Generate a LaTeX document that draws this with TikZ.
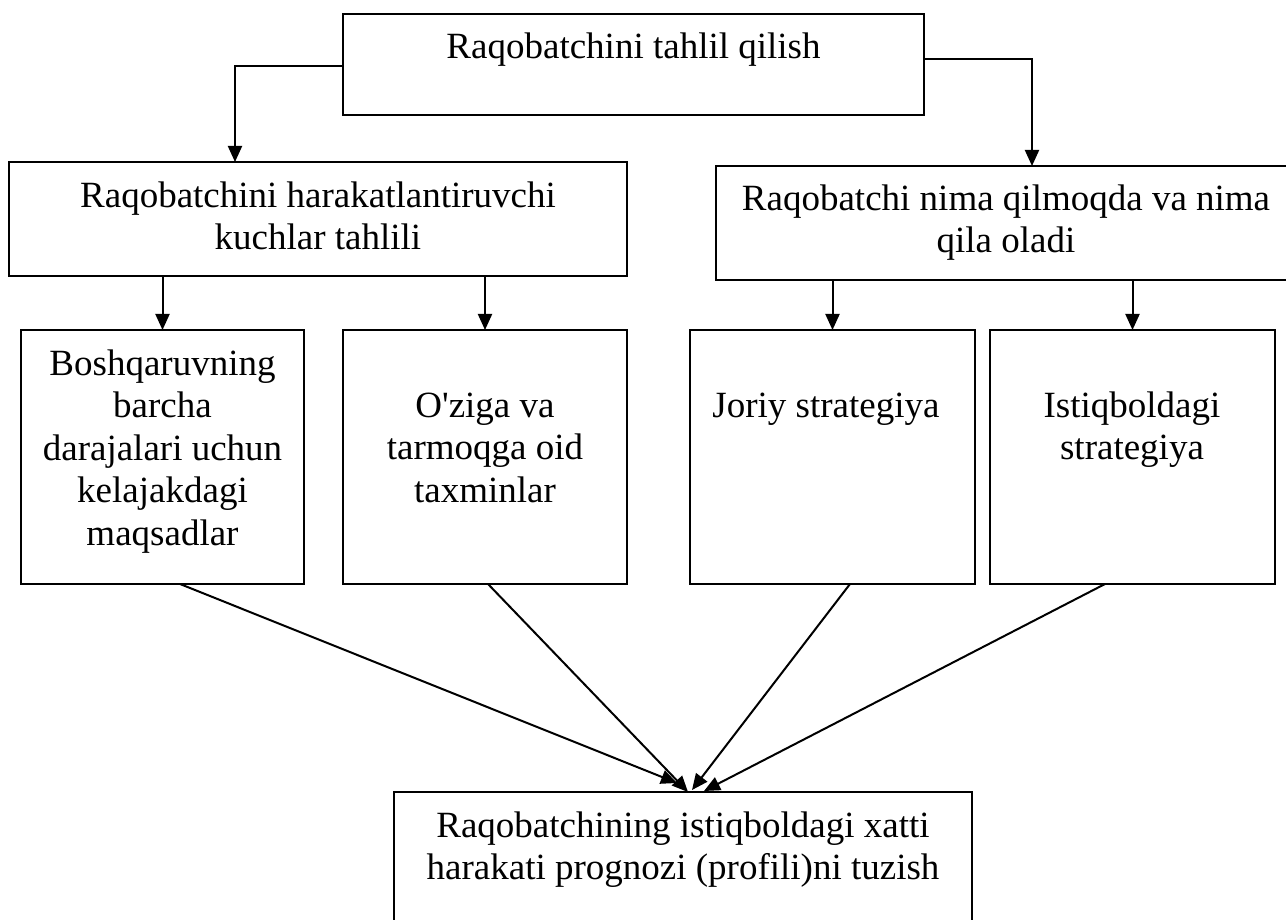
\documentclass[tikz,border=0pt]{standalone}
\usepackage{fontspec}
\setmainfont{Liberation Serif}[Ligatures=TeXOff]
\usetikzlibrary{arrows.meta,calc}
\begin{document}
\begin{tikzpicture}[x=1pt,y=-1pt,
  box/.style={draw, line width=2pt, inner sep=0pt, outer sep=0pt},
  txt/.style={font=\fontsize{37}{42.5}\selectfont, align=center, inner sep=0pt, anchor=north},
  arr/.style={line width=2pt, -{Triangle[length=16pt,width=14pt]}}]
\useasboundingbox (0,0) rectangle (1286,920);
% boxes
\node[box, minimum width=581pt, minimum height=101pt] (top) at (633.5,64.5) {};
\node[box, minimum width=618pt, minimum height=114pt] (left2) at (318,219) {};
\node[box, minimum width=584pt, minimum height=114pt] (right2) at (1008,223) {};
\node[box, minimum width=283pt, minimum height=254pt] (A) at (162.5,457) {};
\node[box, minimum width=284pt, minimum height=254pt] (B) at (485,457) {};
\node[box, minimum width=285pt, minimum height=254pt] (C) at (832.5,457) {};
\node[box, minimum width=285pt, minimum height=254pt] (D) at (1132.5,457) {};
\node[box, minimum width=578pt, minimum height=158pt] (bot) at (683,871) {};
% texts
\node[txt] (ttop) at (633.5,28.25) {\strut Raqobatchini tahlil qilish};
\node[txt] (tleft2) at (318,177.25) {\strut Raqobatchini harakatlantiruvchi\\kuchlar tahlili};
\node[txt] (tright2) at (1006,180.25) {\strut Raqobatchi nima qilmoqda va nima\\qila oladi};
\node[txt] (tA) at (162.5,345.25) {\strut Boshqaruvning\\barcha\\darajalari uchun\\kelajakdagi\\maqsadlar};
\node[txt] (tB) at (485,387.25) {\strut O'ziga va\\tarmoqga oid\\taxminlar};
\node[txt] (tC) at (826,387.25) {\strut Joriy strategiya};
\node[txt] (tD) at (1132,387.25) {\strut Istiqboldagi\\strategiya};
\node[txt] (tbot) at (683,807.25) {\strut Raqobatchining istiqboldagi xatti\\harakati prognozi (profili)ni tuzish};
% connectors
\draw[arr] ($(top.west)+(0,1.5)$) -| ($(left2.north)+(-83,0)$);
\draw[arr] ($(top.east)+(0,-5.5)$) -| ($(right2.north)+(24,0)$);
\draw[arr] (A.north |- left2.south) -- (A.north);
\draw[arr] (B.north |- left2.south) -- (B.north);
\draw[arr] (C.north |- right2.south) -- (C.north);
\draw[arr] (D.north |- right2.south) -- (D.north);
\draw[arr] ($(A.south)+(17.5,0)$) -- ($(bot.north west)+(283,-9)$);
\draw[arr] ($(B.south)+(3,0)$) -- ($(bot.north west)+(294,0)$);
\draw[arr] ($(C.south)+(17.5,0)$) -- ($(bot.north west)+(298,-2)$);
\draw[arr] ($(D.south)+(-27.5,0)$) -- ($(bot.north west)+(310,-1)$);
\end{tikzpicture}
\end{document}
